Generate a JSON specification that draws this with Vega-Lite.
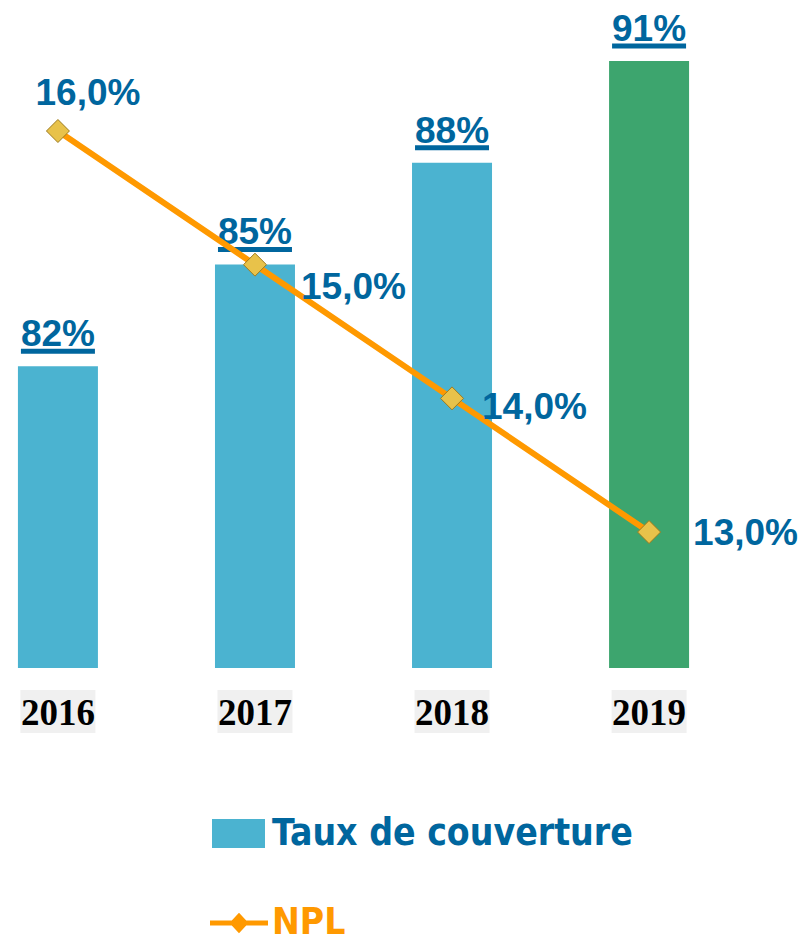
{
  "$schema": "https://vega.github.io/schema/vega-lite/v6.json",
  "width": 707,
  "height": 668,
  "autosize": {"type": "none"},
  "padding": {"left": 0, "top": 0, "right": 93, "bottom": 274},
  "background": "white",
  "config": {
    "view": {"stroke": null},
    "locale": {"number": {"decimal": ",", "thousands": " ", "grouping": [3], "currency": ["", " €"]}}
  },
  "data": {
    "values": [
      {"year": "2016", "couverture": 0.82, "npl": 0.16},
      {"year": "2017", "couverture": 0.85, "npl": 0.15},
      {"year": "2018", "couverture": 0.88, "npl": 0.14},
      {"year": "2019", "couverture": 0.91, "npl": 0.13}
    ]
  },
  "encoding": {
    "x": {
      "field": "year",
      "type": "nominal",
      "scale": {"paddingInner": 0.594, "paddingOuter": 0.091},
      "axis": {
        "title": null,
        "labelAngle": 0,
        "domain": false,
        "ticks": false,
        "tickSize": 0,
        "labelPadding": 56,
        "labelBaseline": "alphabetic",
        "labelFont": "Liberation Serif",
        "labelFontWeight": "bold",
        "labelFontSize": 37,
        "labelColor": "#000000",
        "zindex": 1
      }
    }
  },
  "layer": [
    {
      "layer": [
        {
          "mark": {"type": "bar", "color": "#F0F0F0", "width": 75},
          "encoding": {
            "y": {"datum": 0.7245, "type": "quantitative", "scale": {"domain": [0.731, 0.928]}, "axis": null},
            "y2": {"datum": 0.7118}
          }
        },
        {
          "mark": {"type": "bar"},
          "encoding": {
            "y": {"field": "couverture", "type": "quantitative", "scale": {"domain": [0.731, 0.928]}, "axis": null},
            "y2": {"datum": 0.731},
            "fill": {
              "condition": {"test": "datum.year === '2019'", "value": "#3DA56E"},
              "datum": "Taux de couverture",
              "type": "nominal",
              "scale": {"domain": ["Taux de couverture"], "range": ["#4BB3D0"]},
              "legend": {
                "orient": "none",
                "legendX": 212,
                "legendY": 807,
                "title": null,
                "padding": 0,
                "symbolType": "M-1,-0.55H1V0.55H-1Z",
                "symbolSize": 2809,
                "symbolStrokeWidth": 0,
                "labelFont": "Liberation Sans Narrow, DejaVu Sans Condensed, sans-serif",
                "labelFontSize": 37,
                "labelFontWeight": "bold",
                "labelColor": "#00669E",
                "labelOffset": 7,
                "labelLimit": 0
              }
            }
          }
        },
        {
          "mark": {"type": "tick", "color": "#00669E", "thickness": 5, "size": 74, "yOffset": -15, "opacity": 1},
          "encoding": {
            "y": {"field": "couverture", "type": "quantitative", "scale": {"domain": [0.731, 0.928]}, "axis": null}
          }
        },
        {
          "mark": {"type": "text", "dy": -20, "baseline": "alphabetic", "align": "center", "font": "Liberation Sans", "fontWeight": "bold", "fontSize": 37, "color": "#00669E"},
          "encoding": {
            "y": {"field": "couverture", "type": "quantitative", "scale": {"domain": [0.731, 0.928]}, "axis": null},
            "text": {"field": "couverture", "type": "quantitative", "format": ".0%"}
          }
        }
      ]
    },
    {
      "encoding": {
        "y": {"field": "npl", "type": "quantitative", "scale": {"domain": [0.11983, 0.1698]}, "axis": null}
      },
      "layer": [
        {
          "mark": {"type": "line", "strokeWidth": 6},
          "encoding": {
            "stroke": {
              "datum": "NPL",
              "type": "nominal",
              "scale": {"domain": ["NPL"], "range": ["#FF9900"]},
              "legend": {
                "orient": "none",
                "legendX": 210,
                "legendY": 894,
                "title": null,
                "padding": 0,
                "symbolType": "M-1,-0.09H1V0.09H-1ZM-0.33,0L0,-0.35L0.33,0L0,0.35Z",
                "symbolSize": 3364,
                "labelFont": "Liberation Sans Narrow, DejaVu Sans Condensed, sans-serif",
                "labelFontSize": 37,
                "labelFontWeight": "bold",
                "labelColor": "#FF9900",
                "labelOffset": 4,
                "encode": {"symbols": {"update": {"fill": {"value": "#FF9900"}, "fillOpacity": {"value": 1}, "strokeWidth": {"value": 0}}}}
              }
            }
          }
        },
        {
          "mark": {"type": "point", "shape": "diamond", "size": 529, "filled": true, "fill": "#E8C24A", "stroke": "#9C7A1E", "strokeWidth": 1, "opacity": 1}
        },
        {
          "transform": [{"filter": "datum.year === '2016'"}],
          "mark": {"type": "text", "dx": 30, "dy": -26, "align": "center", "baseline": "alphabetic", "font": "Liberation Sans", "fontWeight": "bold", "fontSize": 37, "color": "#00669E"},
          "encoding": {"text": {"field": "npl", "type": "quantitative", "format": ".1%"}}
        },
        {
          "transform": [{"filter": "datum.year === '2017'"}],
          "mark": {"type": "text", "dx": 46, "dy": 34, "align": "left", "baseline": "alphabetic", "font": "Liberation Sans", "fontWeight": "bold", "fontSize": 37, "color": "#00669E"},
          "encoding": {"text": {"field": "npl", "type": "quantitative", "format": ".1%"}}
        },
        {
          "transform": [{"filter": "datum.year === '2018'"}],
          "mark": {"type": "text", "dx": 30, "dy": 21, "align": "left", "baseline": "alphabetic", "font": "Liberation Sans", "fontWeight": "bold", "fontSize": 37, "color": "#00669E"},
          "encoding": {"text": {"field": "npl", "type": "quantitative", "format": ".1%"}}
        },
        {
          "transform": [{"filter": "datum.year === '2019'"}],
          "mark": {"type": "text", "dx": 44, "dy": 13, "align": "left", "baseline": "alphabetic", "font": "Liberation Sans", "fontWeight": "bold", "fontSize": 37, "color": "#00669E"},
          "encoding": {"text": {"field": "npl", "type": "quantitative", "format": ".1%"}}
        }
      ]
    }
  ],
  "resolve": {"scale": {"y": "independent", "fill": "independent", "stroke": "independent"}}
}
